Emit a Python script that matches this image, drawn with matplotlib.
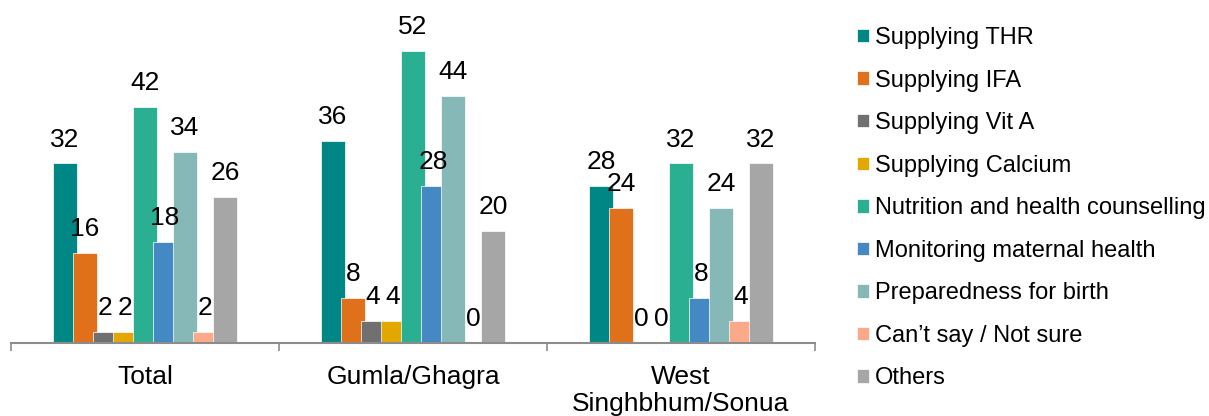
import matplotlib
matplotlib.use("Agg")
import matplotlib.pyplot as plt
import numpy as np

plt.rcParams['font.family'] = ['Liberation Sans', 'DejaVu Sans']

regions = ["Total", "Gumla/Ghagra", "West\nSinghbhum/Sonua"]
services = [
    "Supplying THR",
    "Supplying IFA",
    "Supplying Vit A",
    "Supplying Calcium",
    "Nutrition and health counselling",
    "Monitoring maternal health",
    "Preparedness for birth",
    "Can\u2019t say / Not sure",
    "Others",
]
thr = [32, 36, 28]
ifa = [16, 8, 24]
vit_a = [2, 4, 0]
calcium = [2, 4, 0]
counselling = [42, 52, 32]
monitoring = [18, 28, 8]
preparedness = [34, 44, 24]
cant_say = [2, 0, 4]
others = [26, 20, 32]

series = [thr, ifa, vit_a, calcium, counselling, monitoring, preparedness, cant_say, others]
colors = ["#008785", "#E0701A", "#707070", "#E2A800", "#2BAF93",
          "#4488C4", "#86B8B8", "#FCA98A", "#A6A6A6"]

W, H = 1209, 416
fig = plt.figure(figsize=(W / 100, H / 100), dpi=100)
ax = fig.add_axes([11 / W, 73 / H, 804 / W, 343 / H])

x = np.arange(len(regions))
step = 0.0746
width = 0.087
n = len(series)
handles = []
for i, (vals, col) in enumerate(zip(series, colors)):
    pos = x + (i - (n - 1) / 2) * step
    bars = ax.bar(pos, vals, width, color=col, edgecolor="#FFFFFF", linewidth=0.5,
                  label=services[i])
    handles.append(bars)
    for b, v in zip(bars, vals):
        ax.text(b.get_x() + b.get_width() / 2, v + 3.0, f"{v}",
                ha="center", va="baseline", fontsize=19, color="black")

ax.set_xlim(-0.5, 2.5)
ax.set_ylim(0, 61.1)
ax.set_yticks([])
for s in ["top", "right", "left"]:
    ax.spines[s].set_visible(False)
ax.spines["bottom"].set_color("#8C8C8C")
ax.spines["bottom"].set_linewidth(1.5)

ax.set_xticks([-0.5, 0.5, 1.5, 2.5])
ax.set_xticklabels([])
ax.tick_params(axis="x", which="major", length=6, width=1.2, color="#8C8C8C")
ax.set_xticks(x, minor=True)
ax.set_xticklabels(regions, minor=True, fontsize=19, linespacing=1.17)
ax.tick_params(axis="x", which="minor", length=0, pad=16)

fig.legend(handles=handles, labels=services, loc="upper left",
           bbox_to_anchor=(857 / W, 1 - 27 / H), frameon=False,
           fontsize=17, handlelength=0.5, handleheight=0.5,
           handletextpad=0.25, labelspacing=0.87, borderaxespad=0, borderpad=0)

fig.savefig("out.png", dpi=100)
